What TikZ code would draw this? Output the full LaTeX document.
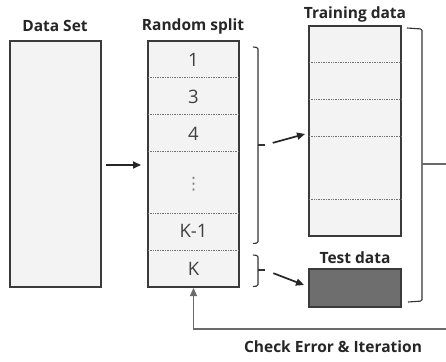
\documentclass[tikz,border=0pt]{standalone}
\usepackage{fontspec}
\setmainfont{Open Sans}
\newfontfamily\dejavu{DejaVu Sans}
\usetikzlibrary{arrows.meta,calc}
\definecolor{boxfill}{HTML}{F3F3F3}
\definecolor{boxline}{HTML}{3A3A3A}
\definecolor{darkfill}{HTML}{6E6E6E}
\definecolor{conn}{HTML}{6A6A6A}
\begin{document}
\begin{tikzpicture}[x=1pt,y=-1pt,
  box/.style={draw=boxline, line width=1.2pt, fill=boxfill, inner sep=0pt, outer sep=0pt, rectangle},
  title/.style={font=\bfseries\fontsize{15.5}{18}\selectfont, text=black!85, inner sep=0pt},
  num/.style={font=\fontsize{18.5}{21}\selectfont, text=black!75, inner sep=0pt},
  sep/.style={draw=black!55, line width=0.9pt, dash pattern=on 1pt off 0.7pt},
  bracestyle/.style={draw=black!80, line width=1.1pt, rounded corners=1.5pt},
  arr/.style={-{Triangle[length=8pt,width=7pt]}, line width=1.7pt, draw=black!85},
  looparrow/.style={-{Triangle[length=8pt,width=7pt]}, line width=1.3pt, draw=conn}
]
\useasboundingbox[fill=white] (0,0) rectangle (446,361);

% boxes
\node[box, minimum width=91pt, minimum height=246pt] (ds) at (55.5,164) {};
\node[box, minimum width=91pt, minimum height=246pt] (rs) at (193.5,164) {};
\node[box, minimum width=92pt, minimum height=210pt] (tr) at (355,131) {};
\node[box, fill=darkfill, minimum width=92pt, minimum height=38pt] (te) at (355,288) {};

% titles
\node[title] (tds) at (55,26) {Data Set};
\node[title] (trs) at (193,26) {Random split};
\node[title] (ttr) at (355,14) {Training data};
\node[title] (tte) at (355,258) {Test data};
\node[title] (tce) at (333,347) {Check Error \& Iteration};

% separators in random split
\foreach \yy in {77,114,151,213,250}
  \draw[sep] (148,\yy) -- (239,\yy);
% separators in training data
\foreach \yy in {62,99,136,199}
  \draw[sep] (309,\yy) -- (401,\yy);

% fold labels
\node[num] (f1) at (193.5,60) {1};
\node[num] (f3) at (193.5,97) {3};
\node[num] (f4) at (193.5,134) {4};
\node[num, text=black!50, font=\dejavu\fontsize{17}{20}\selectfont] (fd) at (193.5,184) {⋮};
\node[num] (fk1) at (193.5,231) {K-1};
\node[num] (fk) at (193.5,269) {K};

% braces
\draw[bracestyle] (253,47) -- (258,47.5) -- (258,243) -- (253,243.5);
\draw[bracestyle] (258,145) -- (265,145);
\coordinate (b1) at (265,145);
\draw[bracestyle] (253,255) -- (258,255.5) -- (258,286) -- (253,286.5);
\draw[bracestyle] (258,270) -- (265,270);
\coordinate (b2) at (265,270);
\draw[bracestyle] (407,28) -- (422,29) -- (422,301) -- (408,302);
\coordinate (b3) at (422,164);
\coordinate (lc) at (452,329);

% arrows
\draw[arr, shorten <=5pt, shorten >=7pt] (ds.east |- 0,165) -- (rs.west |- 0,165);
\draw[arr, shorten <=8pt] (b1) -- ($(tr.west)+(-4,3)$);
\draw[arr, shorten <=9pt] (b2) -- ($(te.west)+(-5,-3)$);
\draw[looparrow, shorten >=1pt] (b3) -| (lc) -| (rs.south);
\end{tikzpicture}
\end{document}
